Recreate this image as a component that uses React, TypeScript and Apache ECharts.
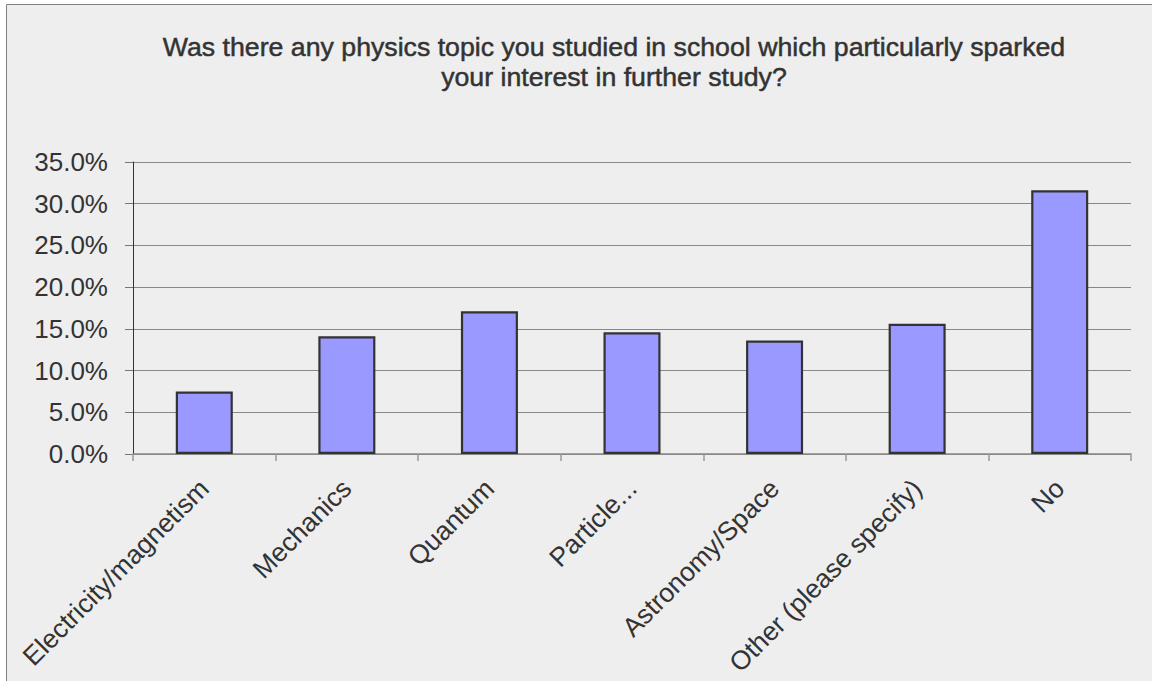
import React, { useEffect, useRef } from "react";
import * as echarts from "echarts";

const titleLines = [
  "Was there any physics topic you studied in school which particularly sparked",
  "your interest in further study?",
];
const categories = [
  "Electricity/magnetism",
  "Mechanics",
  "Quantum",
  "Particle...",
  "Astronomy/Space",
  "Other (please specify)",
  "No",
];
const values = [0.075, 0.141, 0.171, 0.146, 0.136, 0.156, 0.316];
const yMin = 0;
const yMax = 0.35;
const yStep = 0.05;

const FONT = "'Liberation Sans', Arial, sans-serif";

export default function App() {
  const ref = useRef<HTMLDivElement>(null);
  useEffect(() => {
    if (!ref.current) return;
    const chart = echarts.init(ref.current, undefined, { renderer: "svg" });
    chart.setOption({
      animation: false,
      backgroundColor: "transparent",
      textStyle: { fontFamily: FONT },
      graphic: [
        {
          type: "rect",
          z: -10,
          silent: true,
          shape: { x: 6.5, y: 4.5, width: 1200, height: 720 },
          style: { fill: "#EEEEEE", stroke: "#808080", lineWidth: 1 },
        },
      ],
      title: {
        text: titleLines.join("\n"),
        left: 614,
        top: 32,
        padding: 0,
        textAlign: "center",
        textStyle: {
          fontFamily: FONT,
          fontSize: 26.7,
          fontWeight: "normal",
          color: "#333333",
          textBorderColor: "#333333",
          textBorderWidth: 0.5,
          lineHeight: 30,
        },
      },
      grid: { left: 133, right: 21, top: 162, bottom: 227, containLabel: false },
      xAxis: {
        type: "category",
        data: categories,
        axisLine: { show: true, lineStyle: { color: "#888888", width: 1.5 } },
        axisTick: {
          show: true,
          alignWithLabel: false,
          length: 7,
          lineStyle: { color: "#999999", width: 1.5 },
        },
        axisLabel: {
          interval: 0,
          rotate: 45,
          margin: 30,
          fontFamily: FONT,
          fontSize: 26.5,
          color: "#333333",
        },
        splitLine: { show: false },
      },
      yAxis: {
        type: "value",
        min: yMin,
        max: yMax,
        interval: yStep,
        axisLine: { show: true, lineStyle: { color: "#333333", width: 1 } },
        axisTick: { show: true, length: 8, lineStyle: { color: "#777777", width: 1 } },
        axisLabel: {
          margin: 25,
          fontFamily: FONT,
          fontSize: 26,
          color: "#333333",
          formatter: (v: number) => (v * 100).toFixed(1) + "%",
        },
        splitLine: { show: true, lineStyle: { color: "#888888", width: 1 } },
      },
      series: [
        {
          type: "bar",
          data: values,
          barWidth: "40%",
          itemStyle: { color: "#9999FF", borderColor: "#333333", borderWidth: 2.2 },
        },
      ],
    });
    return () => chart.dispose();
  }, []);
  return (
    <div
      ref={ref}
      style={{ position: "fixed", left: 0, top: 0, width: 1152, height: 681, background: "#FFFFFF" }}
    />
  );
}
